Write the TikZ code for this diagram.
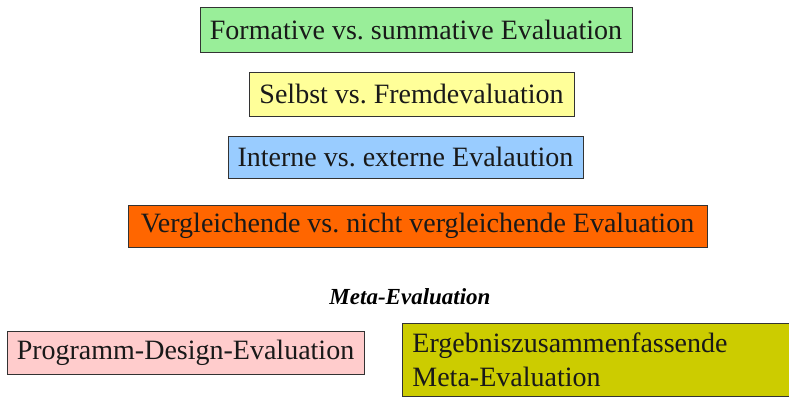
\documentclass[tikz,border=0pt]{standalone}
\usepackage{fontspec}
\setmainfont{Liberation Serif}
\definecolor{cgreen}{HTML}{99EE99}
\definecolor{cyellow}{HTML}{FFFF99}
\definecolor{cblue}{HTML}{99CCFF}
\definecolor{corange}{HTML}{FF6600}
\definecolor{cpink}{HTML}{FFCCCC}
\definecolor{colive}{HTML}{CCCC00}
\begin{document}
\begin{tikzpicture}[x=1pt,y=-1pt,
  box/.style={draw=black!80, line width=0.8pt, inner sep=0pt, font=\fontsize{28}{32}\selectfont, text=black!90},
]
\useasboundingbox (0,0) rectangle (789,396);
\node[box, fill=cgreen, minimum width=432, minimum height=45] (form) at (416,29.5) {Formative vs.\ summative Evaluation};
\node[box, fill=cyellow, minimum width=325, minimum height=44] (selbst) at (411.5,94) {Selbst vs.\ Fremdevaluation};
\node[box, fill=cblue, minimum width=355, minimum height=42] (intern) at (405.5,157) {Interne vs.\ externe Evalaution};
\node[box, fill=corange, minimum width=579, minimum height=42] (vergl) at (417.5,226) {Vergleichende vs.\ nicht vergleichende Evaluation};
\node[font=\fontsize{23}{26}\selectfont\bfseries\itshape] (meta) at (410,297) {Meta-Evaluation};
\node[box, fill=cpink, minimum width=357, minimum height=43] (prog) at (185.5,352.5) {Programm-Design-Evaluation};
\node[box, fill=colive, minimum width=390, minimum height=73, anchor=north west, align=left, text width=370, inner xsep=10pt, font=\fontsize{28}{34}\selectfont] (erg) at (402,323) {Ergebniszusammenfassende\\Meta-Evaluation};
\end{tikzpicture}
\end{document}
